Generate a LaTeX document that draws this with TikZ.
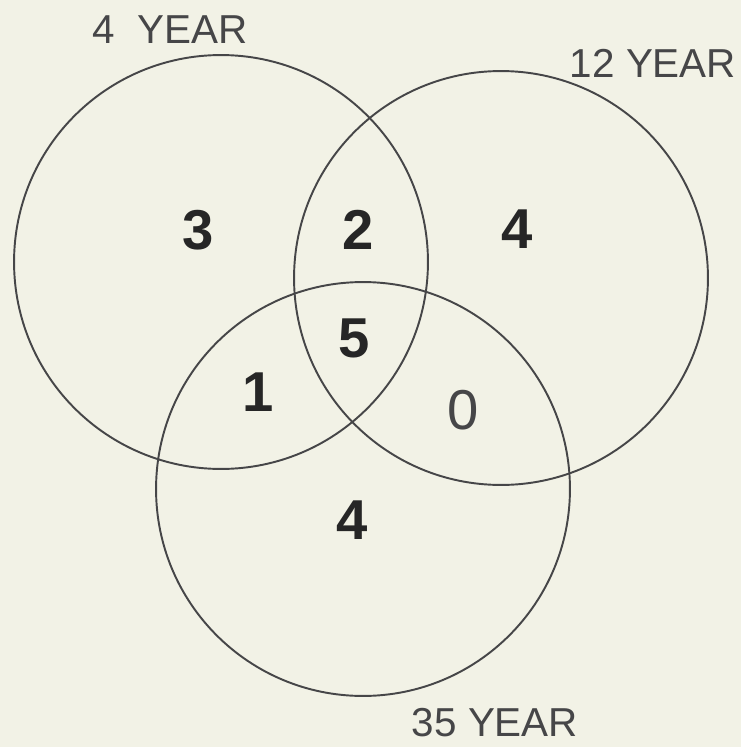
\documentclass[tikz,border=0pt]{standalone}
\usepackage{fontspec}
\setmainfont{Liberation Sans}
\usetikzlibrary{positioning}
\definecolor{paper}{RGB}{242,242,230}
\definecolor{ink}{RGB}{70,70,72}
\tikzset{
    ring/.style={
        draw=ink,
        circle,
        line width=1.1pt,
        minimum size=8.28cm,
        inner sep=0pt
    },
    setname/.style={
        text=ink,
        inner sep=0pt,
        font=\fontsize{23}{26}\selectfont
    },
    count/.style={
        text=black!85,
        inner sep=0pt,
        font=\fontsize{32}{36}\selectfont\bfseries
    },
    thincount/.style={
        text=ink,
        inner sep=0pt,
        font=\fontsize{32}{36}\selectfont
    }
}

\begin{document}
\begin{tikzpicture}[x=0.02cm,y=-0.02cm]

\fill[paper] (0,0) rectangle (741,747);

% the three sets
\node[ring] (four) at (221,262) {};
\node[ring] (twelve) at (501,278) {};
\node[ring] (thirtyfive) at (363,489) {};

% set labels
\node[setname] (fourlbl) at (170,30) {4\ \ YEAR};
\node[setname] (twelvelbl) at (653,63) {12 YEAR};
\node[setname] (thirtyfivelbl) at (495,723) {35 YEAR};

% region counts
\node[count] (onlyfour) at (198,230) {3};
\node[count] (fourtwelve) at (358,230) {2};
\node[count] (onlytwelve) at (517,229) {4};
\node[count] (all) at (354,338) {5};
\node[count] (fourthirtyfive) at (258,392) {1};
\node[thincount] (twelvethirtyfive) at (463,410) {0};
\node[count] (onlythirtyfive) at (352,520) {4};

\end{tikzpicture}
\end{document}
